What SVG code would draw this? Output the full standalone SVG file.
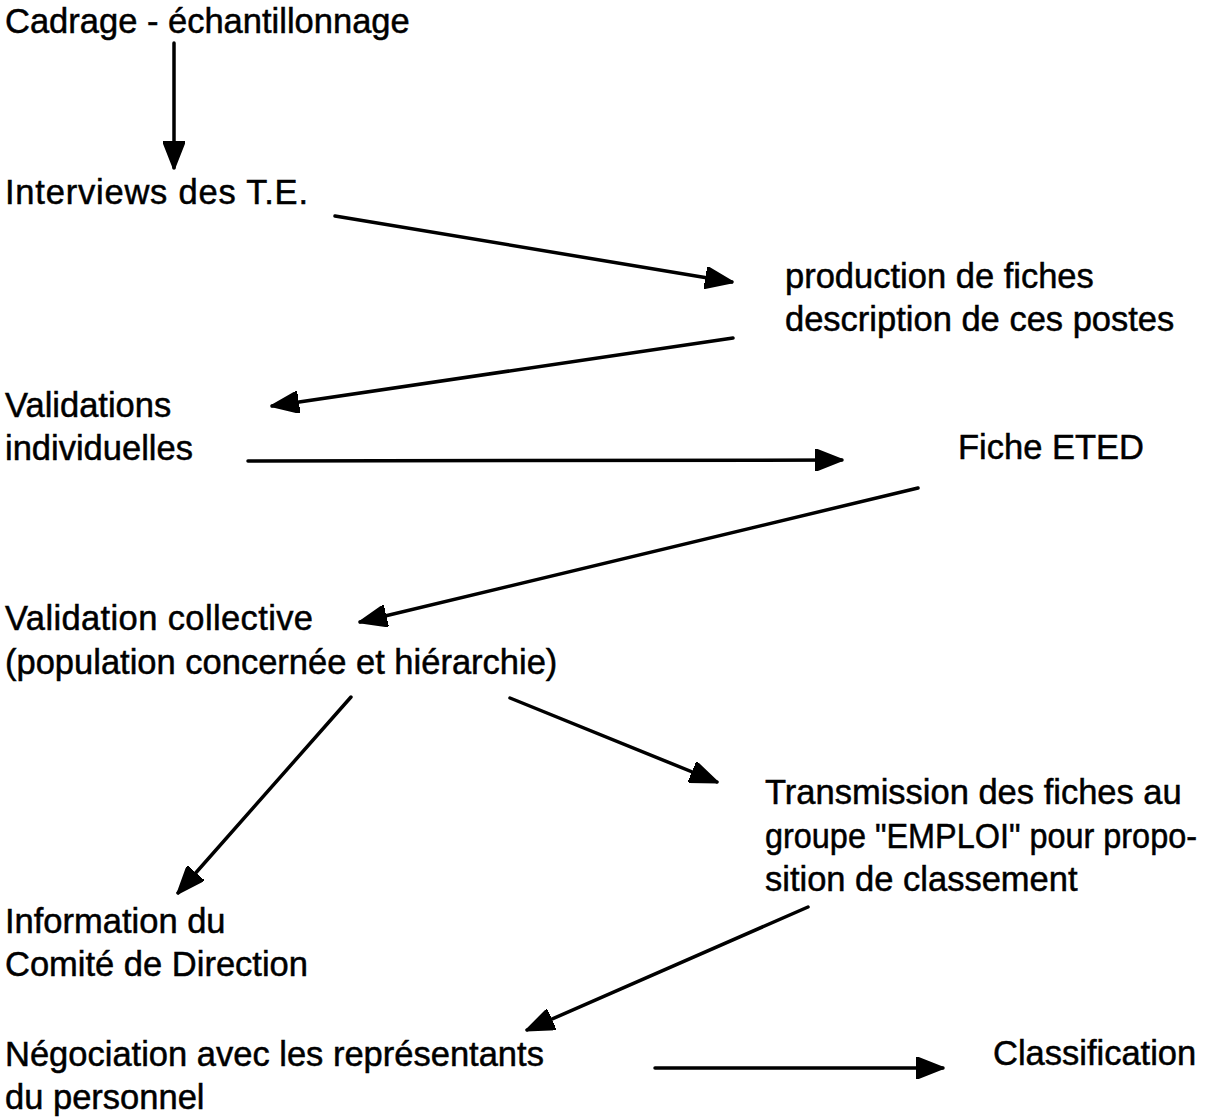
<svg xmlns="http://www.w3.org/2000/svg" width="1225" height="1118" viewBox="0 0 1225 1118">
<style>
text{font-family:"Liberation Sans",Arial,sans-serif;font-size:34.5px;fill:#000;stroke:#000;stroke-width:0.5}
.c line{stroke:#000;stroke-width:3.5;stroke-linecap:round;marker-end:url(#ah)}
</style>
<defs>
<marker id="ah" markerUnits="userSpaceOnUse" viewBox="0 0 28 22" markerWidth="28" markerHeight="22" refX="27" refY="11" orient="auto">
<path d="M0,0 L28,11 L0,22 z" fill="#000" stroke="#000" stroke-width="2" stroke-linejoin="round"/>
</marker>
</defs>
<rect width="1225" height="1118" fill="#fff"/>
<g id="n1"><text x="5" y="33">Cadrage - échantillonnage</text></g>
<g id="n2"><text x="5" y="204" textLength="303" lengthAdjust="spacing">Interviews des T.E.</text></g>
<g id="n3"><text x="785" y="288">production de fiches</text><text x="785" y="331">description de ces postes</text></g>
<g id="n4"><text x="5" y="417">Validations</text><text x="5" y="460">individuelles</text></g>
<g id="n5"><text x="958" y="459">Fiche ETED</text></g>
<g id="n6"><text x="5" y="630" textLength="308" lengthAdjust="spacing">Validation collective</text><text x="5" y="674">(population concernée et hiérarchie)</text></g>
<g id="n7"><text x="765" y="804">Transmission des fiches au</text><text x="765" y="848" textLength="432" lengthAdjust="spacingAndGlyphs">groupe "EMPLOI" pour propo-</text><text x="765" y="891">sition de classement</text></g>
<g id="n8"><text x="5" y="933">Information du</text><text x="5" y="976">Comité de Direction</text></g>
<g id="n9"><text x="5" y="1066">Négociation avec les représentants</text><text x="5" y="1109">du personnel</text></g>
<g id="n10"><text x="993" y="1065">Classification</text></g>
<g id="connectors" class="c">
<line x1="174" y1="43" x2="174" y2="168"/>
<line x1="335" y1="216" x2="732" y2="282"/>
<line x1="733" y1="338" x2="272" y2="406"/>
<line x1="248" y1="461" x2="842" y2="460"/>
<line x1="918" y1="488" x2="360" y2="622"/>
<line x1="351" y1="697" x2="178" y2="893"/>
<line x1="510" y1="698" x2="717" y2="782"/>
<line x1="808" y1="907" x2="527" y2="1030"/>
<line x1="655" y1="1068" x2="943" y2="1068"/>
</g>
</svg>
